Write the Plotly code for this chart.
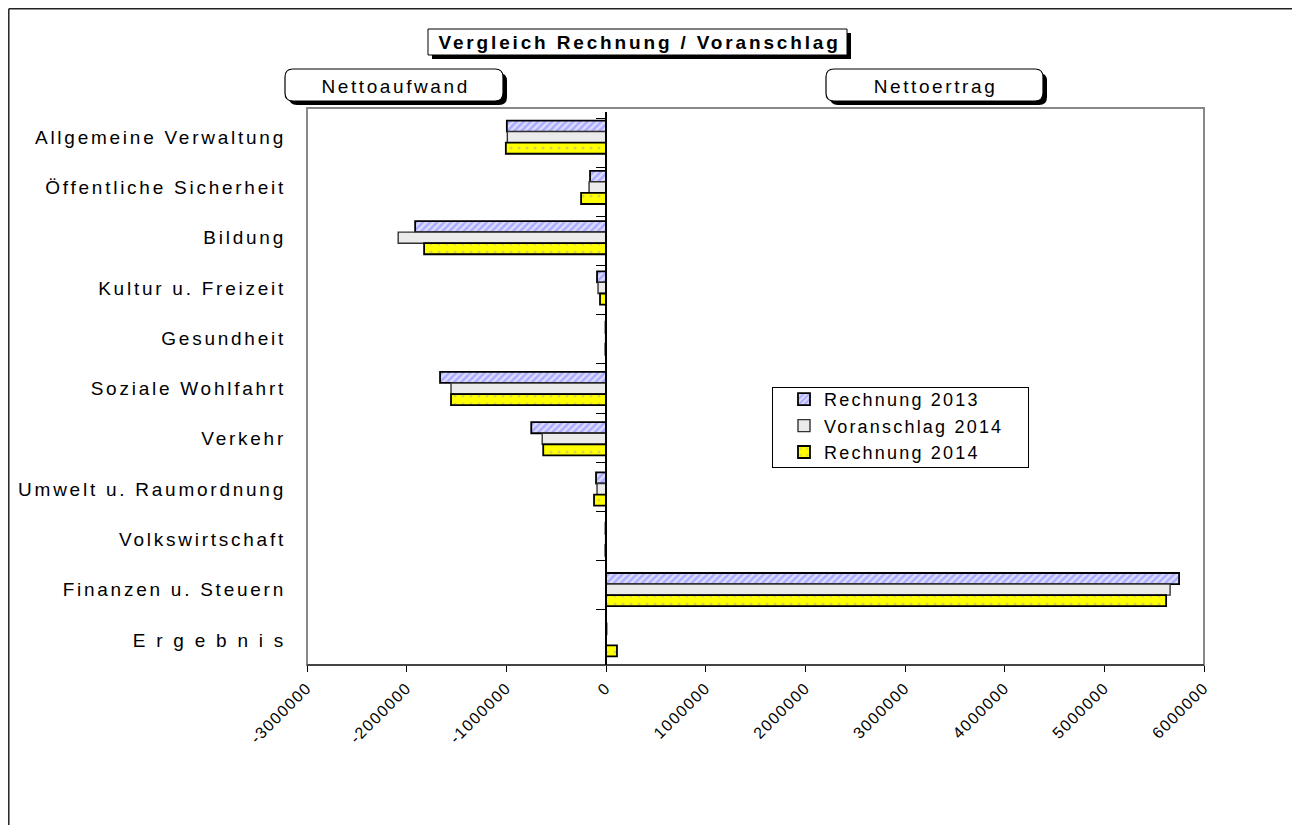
import plotly.graph_objects as go

categories = ["Allgemeine Verwaltung", "Öffentliche Sicherheit", "Bildung",
              "Kultur u. Freizeit", "Gesundheit", "Soziale Wohlfahrt", "Verkehr",
              "Umwelt u. Raumordnung", "Volkswirtschaft", "Finanzen u. Steuern",
              "E r g e b n i s"]
rechnung_2013 = [-995000, -160000, -1915000, -90000, -5000, -1665000, -750000,
                 -100000, -5000, 5750000, 5000]
voranschlag_2014 = [-990000, -170000, -2085000, -80000, -4000, -1555000, -640000,
                    -90000, -4000, 5660000, 2000]
rechnung_2014 = [-1005000, -250000, -1825000, -60000, -6000, -1555000, -630000,
                 -120000, -6000, 5620000, 110000]
series_names = ["Rechnung 2013", "Voranschlag 2014", "Rechnung 2014"]
x_ticks = [-3000000, -2000000, -1000000, 0, 1000000, 2000000, 3000000,
           4000000, 5000000, 6000000]

OFF = 8                      # page body margin
W, H = 1300 - OFF, 825 - OFF
L, R, T, B = 307, 1204, 112, 665   # plot area in page pixels


def px(x):
    return (x - L) / (R - L)


def py(y):
    return (B - y) / (B - T)


FONT = "Liberation Sans, Arial, sans-serif"

fig = go.Figure()
fig.add_trace(go.Bar(
    name=series_names[0], y=categories, x=rechnung_2013, orientation="h",
    marker=dict(color="#d8d8ff", line=dict(color="#000000", width=1.8),
                pattern=dict(shape="/", fgcolor="#7a7aff", bgcolor="#dcdcff",
                             size=5, solidity=0.5)),
))
fig.add_trace(go.Bar(
    name=series_names[1], y=categories, x=voranschlag_2014, orientation="h",
    marker=dict(color="#ebebeb", line=dict(color="#333333", width=1.4)),
))
fig.add_trace(go.Bar(
    name=series_names[2], y=categories, x=rechnung_2014, orientation="h",
    marker=dict(color="#ffff00", line=dict(color="#000000", width=1.8),
                pattern=dict(shape=".", fgcolor="#b0b098", bgcolor="#ffff00",
                             size=8, solidity=0.12)),
))
# invisible trace for the category axis drawn at x = 0
fig.add_trace(go.Scatter(
    x=[0] * len(categories), y=categories, yaxis="y2", mode="markers",
    marker=dict(opacity=0), showlegend=False, hoverinfo="skip",
))

zero_pos = (0 - x_ticks[0]) / (x_ticks[-1] - x_ticks[0])

fig.update_layout(
    width=W, height=H,
    margin=dict(l=L - OFF, r=W - (R - OFF), t=T - OFF, b=H - (B - OFF)),
    paper_bgcolor="white", plot_bgcolor="white",
    barmode="group", bargap=0.34, bargroupgap=0,
    font=dict(family=FONT, color="#000000"),
    xaxis=dict(range=[x_ticks[0], x_ticks[-1]], tickvals=x_ticks,
               ticktext=[str(v) for v in x_ticks], tickangle=-45,
               ticks="outside", ticklen=6, tickcolor="#000000",
               showgrid=False, zeroline=False, showline=False,
               tickfont=dict(size=16, family=FONT, color="#000000")),
    yaxis=dict(type="category", categoryorder="array", categoryarray=categories,
               autorange="reversed", showgrid=False, zeroline=False,
               ticks="", showline=False, ticklabelstandoff=20,
               tickfont=dict(size=19, family=FONT, color="#000000")),
    yaxis2=dict(type="category", categoryorder="array", categoryarray=categories,
                autorange="reversed", overlaying="y", anchor="free",
                position=zero_pos, side="left", showticklabels=False,
                ticks="outside", tickson="boundaries", ticklen=9,
                tickcolor="#000000", showline=True, linecolor="#000000",
                linewidth=1.5, showgrid=False, zeroline=False),
    legend=dict(x=px(783), y=py(380), xanchor="left", yanchor="top",
                bgcolor="white", bordercolor="#000000", borderwidth=1,
                font=dict(size=18, family=FONT, color="#000000"), itemwidth=30,
                tracegroupgap=0, traceorder="normal"),
)

shapes = []
# outer frame (left and top)
shapes.append(dict(type="line", xref="paper", yref="paper", x0=px(8.8), x1=px(8.8),
                   y0=py(8.8), y1=py(830), line=dict(color="#222222", width=1.5)))
shapes.append(dict(type="line", xref="paper", yref="paper", x0=px(8.8), x1=px(1300),
                   y0=py(8.8), y1=py(8.8), line=dict(color="#222222", width=1.5)))
# plot area border
shapes.append(dict(type="rect", xref="paper", yref="paper", x0=0, x1=1, y0=0, y1=py(108),
                   line=dict(color="#888888", width=2), layer="below"))
shapes.append(dict(type="line", xref="paper", yref="paper", x0=0, x1=1, y0=0, y1=0,
                   line=dict(color="#000000", width=1)))


def box(x0, y0, x1, y1, r=0):
    if r == 0:
        return [dict(type="rect", xref="paper", yref="paper", x0=px(x0 + 4), x1=px(x1 + 4),
                     y0=py(y0 + 4), y1=py(y1 + 4), fillcolor="#000000",
                     line=dict(width=0)),
                dict(type="rect", xref="paper", yref="paper", x0=px(x0), x1=px(x1),
                     y0=py(y0), y1=py(y1), fillcolor="#ffffff",
                     line=dict(color="#000000", width=1))]
    res = []
    for dx, fill, lw in [(4, "#000000", 0), (0, "#ffffff", 1.2)]:
        a0, b0, a1, b1 = x0 + dx, y0 + dx, x1 + dx, y1 + dx
        path = (f"M {px(a0 + r)} {py(b0)} L {px(a1 - r)} {py(b0)} "
                f"Q {px(a1)} {py(b0)} {px(a1)} {py(b0 + r)} "
                f"L {px(a1)} {py(b1 - r)} Q {px(a1)} {py(b1)} {px(a1 - r)} {py(b1)} "
                f"L {px(a0 + r)} {py(b1)} Q {px(a0)} {py(b1)} {px(a0)} {py(b1 - r)} "
                f"L {px(a0)} {py(b0 + r)} Q {px(a0)} {py(b0)} {px(a0 + r)} {py(b0)} Z")
        res.append(dict(type="path", xref="paper", yref="paper", path=path,
                        fillcolor=fill, line=dict(color="#000000", width=lw)))
    return res


shapes += box(428, 29, 847, 55)
shapes += box(285, 69, 503, 101, r=8)
shapes += box(826, 69, 1043, 101, r=8)
fig.update_layout(shapes=shapes)

fig.add_annotation(x=px(639), y=py(42), xref="paper", yref="paper", showarrow=False,
                   xanchor="center", yanchor="middle",
                   text="<b>Vergleich Rechnung / Voranschlag</b>",
                   font=dict(size=19, family=FONT, color="#000000"))
fig.add_annotation(x=px(395), y=py(86), xref="paper", yref="paper", showarrow=False,
                   xanchor="center", yanchor="middle",
                   text="Nettoaufwand", font=dict(size=19, family=FONT, color="#000000"))
fig.add_annotation(x=px(935), y=py(86), xref="paper", yref="paper", showarrow=False,
                   xanchor="center", yanchor="middle",
                   text="Nettoertrag", font=dict(size=19, family=FONT, color="#000000"))

# wide character spacing as in the original rendering
post = """
var gd = document.getElementById('{plot_id}');
var sp = (sel, v) => gd.querySelectorAll(sel).forEach(t => t.style.letterSpacing = v);
sp('.ytick text', '2.75px');
sp('.xtick text', '1.4px');
sp('.legendtext', '2.2px');
sp('.annotation-text', '2.6px');
var at = gd.querySelectorAll('.annotation-text');
if (at.length) at[0].style.letterSpacing = '2.85px';
gd.querySelectorAll('.legend rect.bg').forEach(r => { r.setAttribute('x', -10.5); r.setAttribute('y', 7.5); r.setAttribute('width', 256); r.setAttribute('height', 80); });
document.querySelectorAll('clipPath[id^=legend] rect').forEach(r => r.setAttribute('width', 260));
"""

fig.write_html("out.html", post_script=post)
